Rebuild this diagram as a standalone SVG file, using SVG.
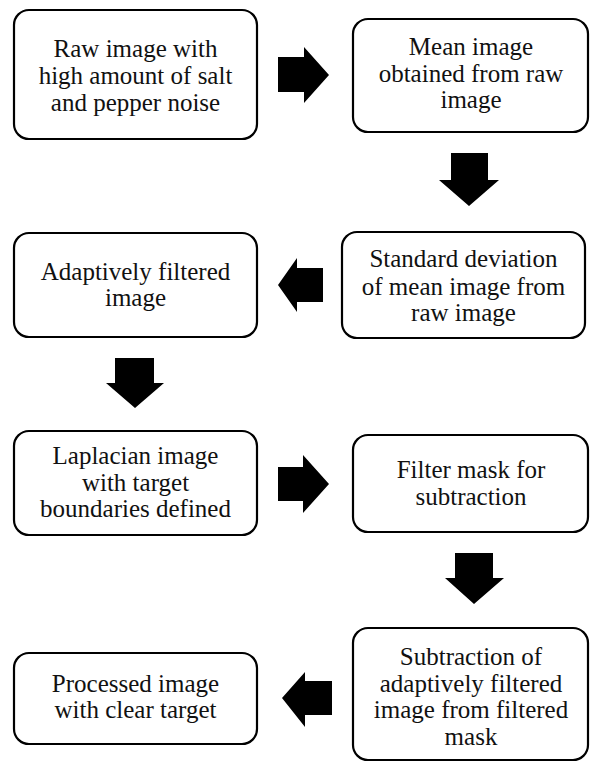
<svg xmlns="http://www.w3.org/2000/svg" width="590" height="762" viewBox="0 0 590 762">
<style>
.box{fill:#fff;stroke:#000;stroke-width:2.2}
text{font-family:'Liberation Serif','Times New Roman',serif;font-size:25px;fill:#111;text-anchor:middle}
.arr{fill:#000}
</style>
<rect width="590" height="762" fill="#fff"/>
<g id="connectors">
<polygon class="arr" points="278,57 304,57 304,47 329,75 304,103 304,92 278,92"/>
<polygon class="arr" points="451,153 488,153 488,180 499,180 469,206 439,180 451,180"/>
<polygon class="arr" points="323,268 297,268 297,258 278,285 297,312 297,302 323,302"/>
<polygon class="arr" points="115,358 154,358 154,383 164,383 135,408 106,383 115,383"/>
<polygon class="arr" points="278,467 303,467 303,455 329,484 303,513 303,501 278,501"/>
<polygon class="arr" points="455,553 493,553 493,578 504,578 474,604 445,578 455,578"/>
<polygon class="arr" points="332,681 305,681 305,672 282,698 305,727 305,715 332,715"/>
</g>
<g id="n1">
<rect class="box" x="14" y="10" width="243" height="129" rx="15"/>
<text x="135.5" y="57">Raw image with</text>
<text x="135.5" y="84">high amount of salt</text>
<text x="135.5" y="111">and pepper noise</text>
</g>
<g id="n2">
<rect class="box" x="353" y="19" width="235" height="113" rx="15"/>
<text x="471" y="55">Mean image</text>
<text x="471" y="82">obtained from raw</text>
<text x="471" y="108">image</text>
</g>
<g id="n3">
<rect class="box" x="14" y="233" width="243" height="104" rx="15"/>
<text x="135.5" y="280">Adaptively filtered</text>
<text x="135.5" y="306">image</text>
</g>
<g id="n4">
<rect class="box" x="342" y="232" width="243" height="106" rx="15"/>
<text x="463.5" y="267">Standard deviation</text>
<text x="463.5" y="295">of mean image from</text>
<text x="463.5" y="321">raw image</text>
</g>
<g id="n5">
<rect class="box" x="14" y="431" width="243" height="104" rx="15"/>
<text x="135.5" y="464">Laplacian image</text>
<text x="135.5" y="491">with target</text>
<text x="135.5" y="517">boundaries defined</text>
</g>
<g id="n6">
<rect class="box" x="353" y="435" width="235" height="97" rx="15"/>
<text x="471" y="478">Filter mask for</text>
<text x="471" y="505">subtraction</text>
</g>
<g id="n7">
<rect class="box" x="353" y="628" width="235" height="132" rx="15"/>
<text x="471" y="665">Subtraction of</text>
<text x="471" y="692">adaptively filtered</text>
<text x="471" y="718">image from filtered</text>
<text x="471" y="745">mask</text>
</g>
<g id="n8">
<rect class="box" x="14" y="653" width="243" height="91" rx="15"/>
<text x="135.5" y="692">Processed image</text>
<text x="135.5" y="718">with clear target</text>
</g>
</svg>
